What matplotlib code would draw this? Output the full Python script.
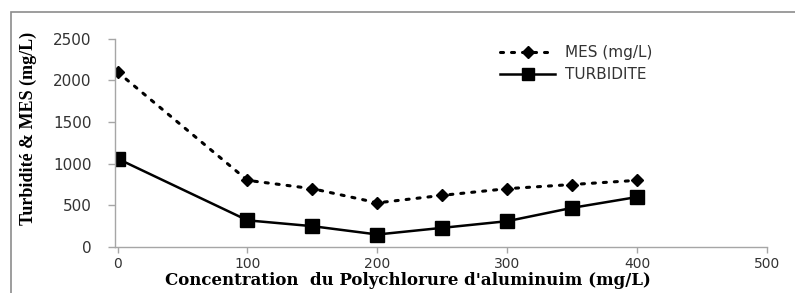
import matplotlib
matplotlib.use("Agg")
import matplotlib.pyplot as plt
from matplotlib.patches import Rectangle

conc = [0, 100, 150, 200, 250, 300, 350, 400]
mes = [2100, 800, 700, 530, 620, 700, 750, 800]
turbidite = [1060, 320, 250, 150, 230, 310, 470, 600]
x_ticks = [0, 100, 200, 300, 400, 500]
y_ticks = [0, 500, 1000, 1500, 2000, 2500]

fig = plt.figure(figsize=(7.95, 2.93), dpi=100)
ax = fig.add_axes([115/795, 1-247/293, (767-115)/795, (247-38.7)/293])

# outer chart border
fig.patches.append(Rectangle((11/795, -0.1), 1.2, 1-12/293+0.1, transform=fig.transFigure,
                             fill=False, edgecolor="#8c8c8c", linewidth=1.2, zorder=0))

ax.plot(conc, mes, linestyle=(0, (1, 2.6)), color="black", linewidth=2.2,
        marker="D", markersize=6.5, label="MES (mg/L)", dash_capstyle="round")
ax.plot(conc, turbidite, linestyle="-", color="black", linewidth=1.8,
        marker="s", markersize=9.5, label="TURBIDITE")

ax.set_xlim(-2, 500)
ax.set_ylim(0, 2500)
ax.set_xticks(x_ticks)
ax.set_yticks(y_ticks)
ax.set_xticklabels([str(v) for v in x_ticks], fontfamily="DejaVu Sans", fontsize=10, color="#333333")
ax.set_yticklabels([str(v) for v in y_ticks], fontfamily="DejaVu Sans", fontsize=11, color="#333333")

for s in ["top", "right"]:
    ax.spines[s].set_visible(False)
for s in ["left", "bottom"]:
    ax.spines[s].set_color("#a6a6a6")
    ax.spines[s].set_linewidth(1.0)
ax.tick_params(axis="both", colors="#a6a6a6", width=1.0, labelcolor="#333333")
ax.tick_params(axis="x", pad=3, length=4)
ax.tick_params(axis="y", pad=12, length=5)

ax.set_xlabel("Concentration  du Polychlorure d'aluminuim (mg/L)", fontfamily="DejaVu Serif",
              fontweight="bold", fontsize=12, labelpad=0)
ax.xaxis.set_label_coords(0.45, -0.12)
ax.set_ylabel("Turbidité & MES (mg/L)", fontfamily="Liberation Serif", fontweight="bold",
              fontsize=13, labelpad=2)
ax.yaxis.set_label_coords(-0.12, 0.57)

leg = ax.legend(loc="upper left", bbox_to_anchor=(0.57, 1.035), frameon=False,
                prop={"family": "DejaVu Sans", "size": 11}, handlelength=3.6,
                handletextpad=0.6, labelspacing=0.45, markerscale=0.9)
for t in leg.get_texts():
    t.set_color("#333333")

fig.savefig("out.png", dpi=100)
